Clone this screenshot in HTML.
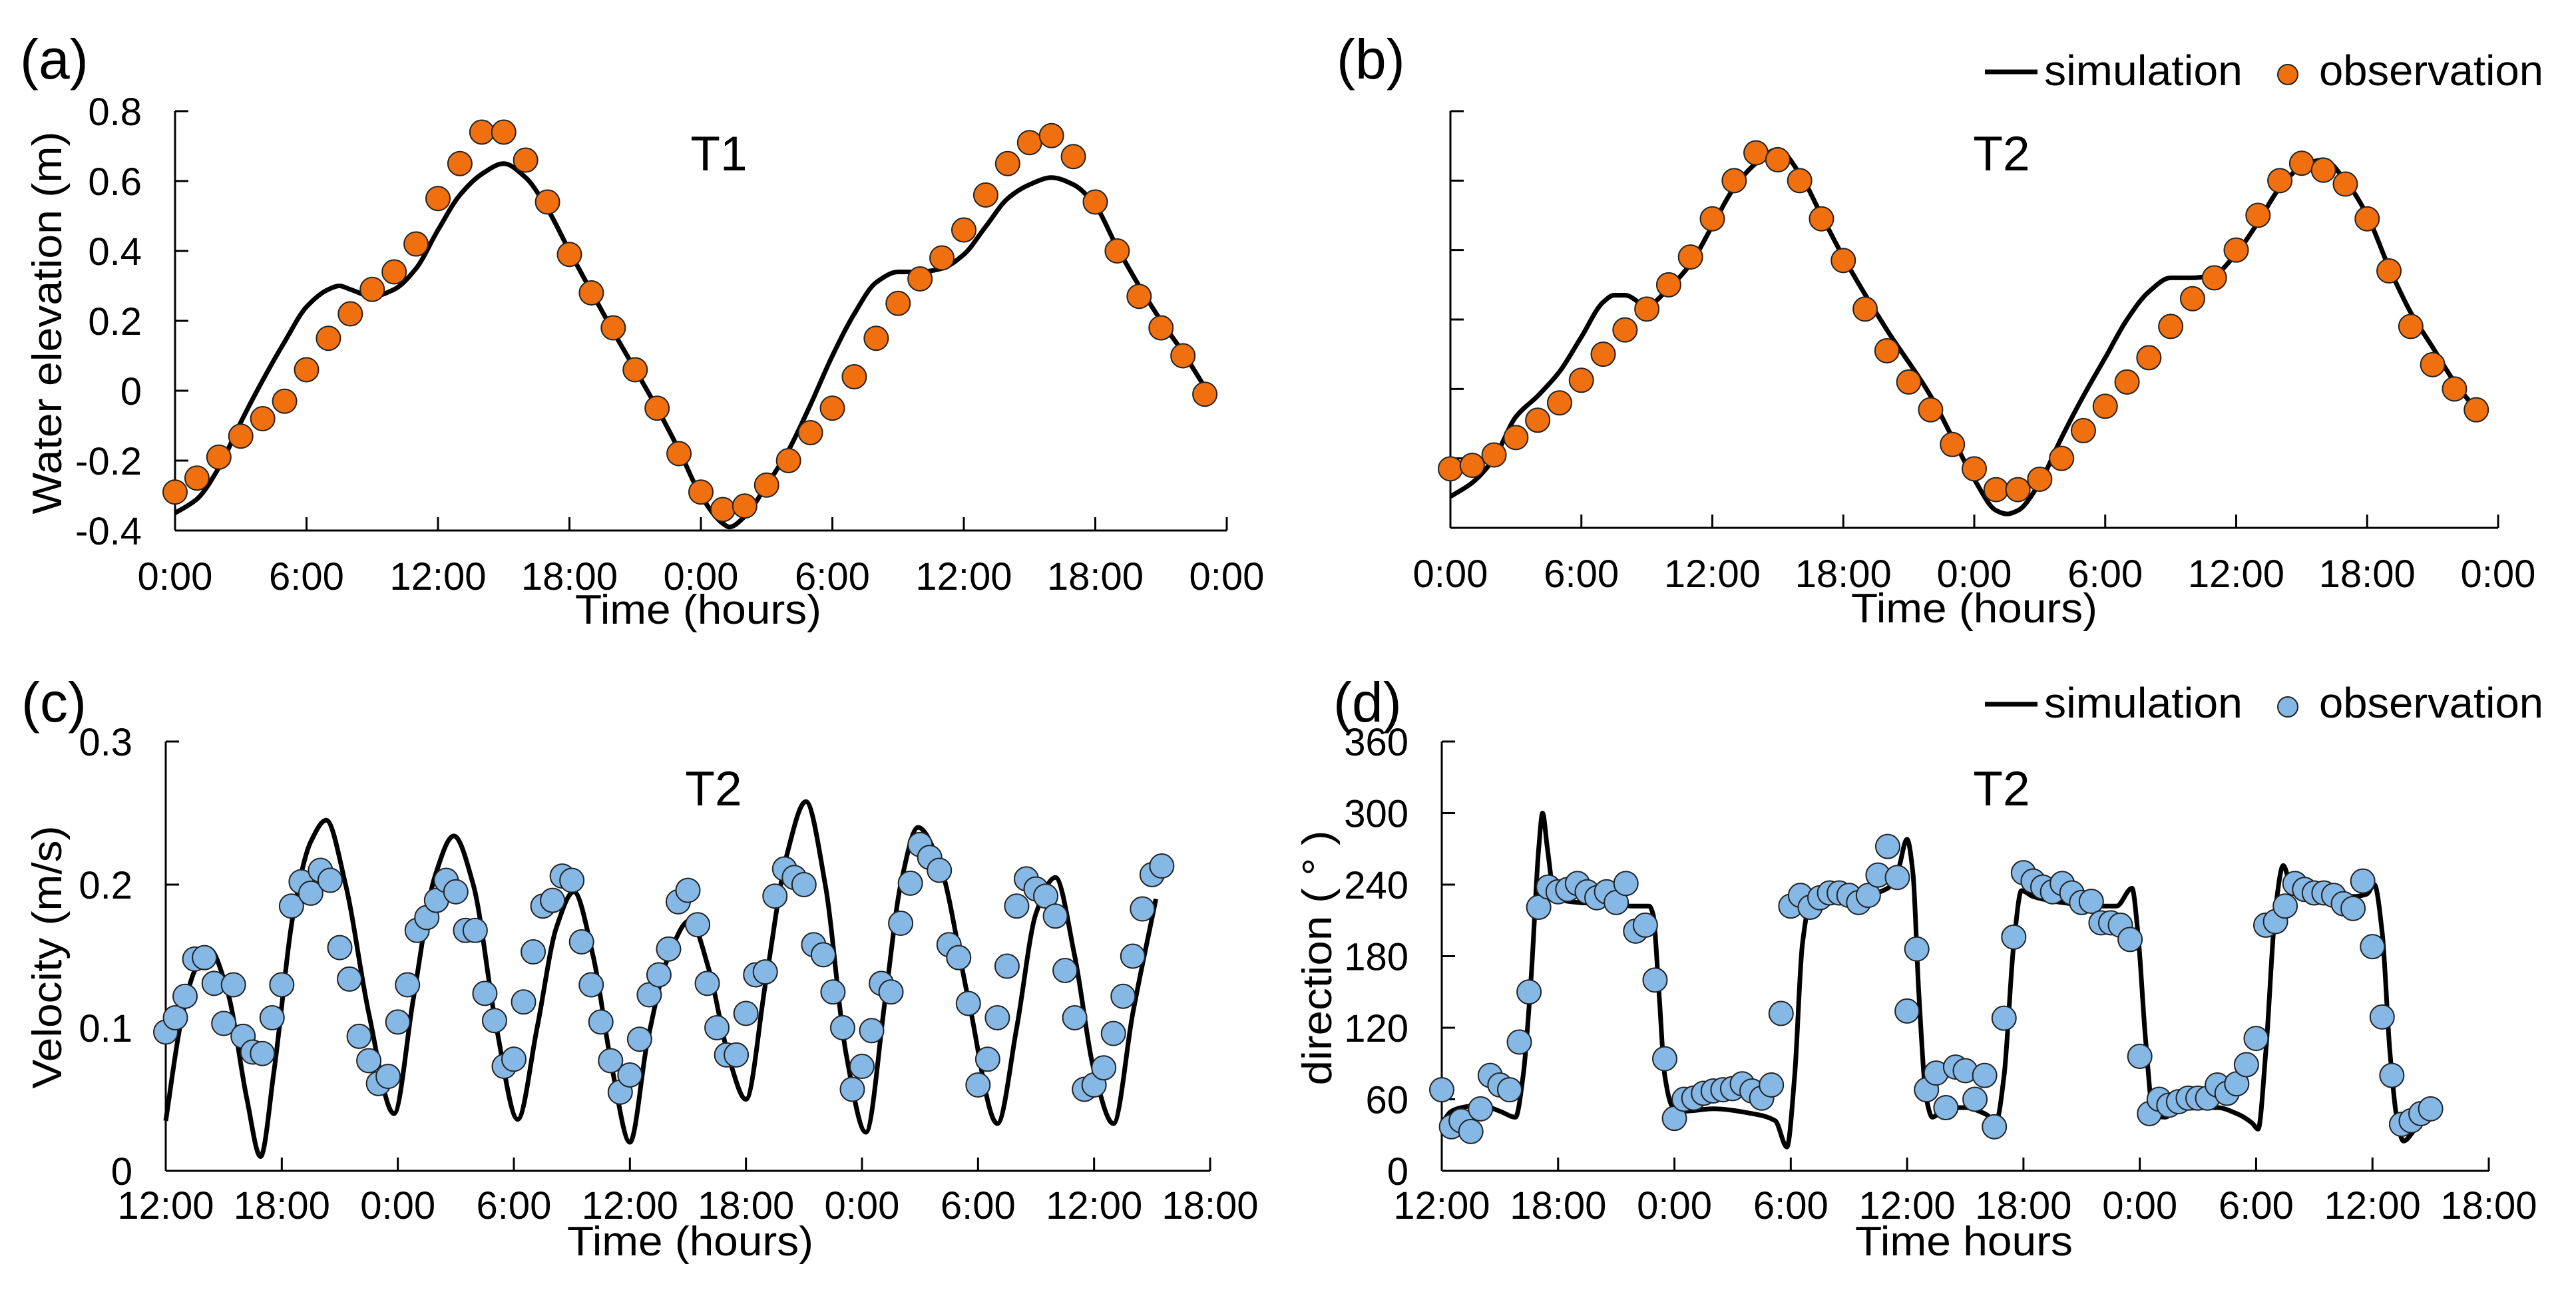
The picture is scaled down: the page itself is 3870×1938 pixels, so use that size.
<!DOCTYPE html>
<html><head><meta charset="utf-8"><title>Tide simulation vs observation</title>
<style>
html,body{margin:0;padding:0;background:#fff;}
svg{display:block;font-family:"Liberation Sans",Arial,sans-serif;}
</style></head>
<body>
<svg id="fig" xmlns="http://www.w3.org/2000/svg" width="3870" height="1938" viewBox="0 0 3870 1938">
<rect x="0" y="0" width="3870" height="1938" fill="#fff"/>
</svg>
<script>
// ---------- data ----------
const elevTicks = [-0.4,-0.2,0,0.2,0.4,0.6,0.8];
const elevTickLabels = ["-0.4","-0.2","0","0.2","0.4","0.6","0.8"];
const dayTickLabelsA = ["0:00","6:00","12:00","18:00","0:00","6:00","12:00","18:00","0:00"];
const dayTickLabelsC = ["12:00","18:00","0:00","6:00","12:00","18:00","0:00","6:00","12:00","18:00"];
const velTicks = [0,0.1,0.2,0.3];
const velTickLabels = ["0","0.1","0.2","0.3"];
const dirTicks = [0,60,120,180,240,300,360];
const dirTickLabels = ["0","60","120","180","240","300","360"];

// panel (a) T1 water elevation, hourly observations
const obsA = [-0.29,-0.25,-0.19,-0.13,-0.08,-0.03,0.06,0.15,0.22,0.29,0.34,0.42,0.55,0.65,0.74,0.74,0.66,0.54,0.39,0.28,0.18,0.06,-0.05,-0.18,-0.29,-0.34,-0.33,-0.27,-0.20,-0.12,-0.05,0.04,0.15,0.25,0.32,0.38,0.46,0.56,0.65,0.71,0.73,0.67,0.54,0.40,0.27,0.18,0.10,-0.01];
const simAHours = [0,1,2,3,4,5,6,7,7.5,8,9,10,11,12,13,14,15,16,17,18,20,22,23,24,25,25.3,26,27,28,29,30,31,32,33,34,35,36,37,38,39,40,41,42,43,44,45,46,47];
const simAValues = [-0.35,-0.31,-0.22,-0.09,0.03,0.14,0.24,0.29,0.30,0.29,0.27,0.29,0.35,0.46,0.56,0.62,0.65,0.61,0.52,0.40,0.17,-0.05,-0.17,-0.30,-0.38,-0.39,-0.36,-0.27,-0.17,-0.04,0.10,0.22,0.31,0.34,0.34,0.35,0.39,0.47,0.55,0.59,0.61,0.59,0.53,0.41,0.30,0.20,0.11,0.01];

// panel (b) T2 water elevation
const obsB = [-0.23,-0.22,-0.19,-0.14,-0.09,-0.04,0.025,0.10,0.17,0.23,0.30,0.38,0.49,0.60,0.68,0.66,0.60,0.49,0.37,0.23,0.11,0.02,-0.06,-0.16,-0.23,-0.29,-0.29,-0.26,-0.20,-0.12,-0.05,0.02,0.09,0.18,0.26,0.32,0.40,0.50,0.60,0.65,0.63,0.59,0.49,0.34,0.18,0.07,0.00,-0.06];
const simBHours = [0,1,2,3,4,5,6,7,7.5,8,9,10,11,12,13,14,15,16,17,18,20,22,23,24,25,25.5,26,27,28,29,30,31,32,33,34,35,36,37,38,39,40,41,42,43,44,45,46,47];
const simBValues = [-0.31,-0.27,-0.20,-0.08,-0.02,0.05,0.15,0.25,0.27,0.27,0.24,0.29,0.36,0.47,0.58,0.65,0.69,0.62,0.50,0.38,0.17,-0.02,-0.14,-0.26,-0.35,-0.36,-0.35,-0.27,-0.14,-0.02,0.09,0.20,0.28,0.32,0.32,0.33,0.39,0.48,0.58,0.64,0.66,0.60,0.50,0.35,0.22,0.12,0.02,-0.06];

// panel (c) T2 velocity, half-hourly observations (hours after 12:00)
const obsC = [0.097,0.107,0.122,0.148,0.149,0.131,0.103,0.130,0.094,0.083,0.082,0.107,0.130,0.185,0.202,0.194,0.210,0.203,0.156,0.134,0.094,0.077,0.061,0.066,0.104,0.130,0.168,0.177,0.189,0.203,0.195,0.168,0.168,0.124,0.105,0.073,0.078,0.118,0.153,0.185,0.189,0.206,0.203,0.160,0.130,0.104,0.077,0.055,0.067,0.092,0.123,0.137,0.155,0.188,0.196,0.172,0.131,0.100,0.081,0.081,0.110,0.137,0.139,0.192,0.211,0.205,0.200,0.158,0.151,0.125,0.100,0.057,0.073,0.098,0.131,0.125,0.173,0.201,0.228,0.219,0.210,0.158,0.149,0.117,0.060,0.078,0.107,0.143,0.185,0.204,0.197,0.192,0.178,0.140,0.107,0.057,0.060,0.072,0.096,0.122,0.150,0.183,0.207,0.213];
const simCHours = [0,0.8,1.5,2.25,3.2,4.2,4.9,5.6,6.6,7.5,8.3,9.3,10.5,11.8,12.8,13.9,14.9,15.9,17.1,18.2,19.2,20.2,21.1,22.1,23.1,24,24.9,26,27.1,28.1,29.1,30,31,32.1,33.1,34.1,35.2,36.2,37.2,38,38.9,40,41.5,43,44,45,46,47,48,49,50,51.2];
const simCValues = [0.035,0.105,0.140,0.155,0.125,0.050,0.010,0.070,0.180,0.230,0.245,0.200,0.110,0.040,0.120,0.205,0.234,0.200,0.100,0.036,0.100,0.170,0.195,0.150,0.070,0.020,0.090,0.150,0.175,0.140,0.080,0.050,0.130,0.220,0.258,0.200,0.080,0.027,0.120,0.200,0.240,0.215,0.120,0.033,0.100,0.180,0.205,0.150,0.070,0.033,0.110,0.190];

// panel (d) T2 direction
const obsD = [68,37,42,33,52,80,72,68,108,150,221,238,234,236,241,234,229,234,225,241,201,206,160,94,44,60,61,65,67,68,69,73,67,61,72,132,222,231,221,229,233,233,231,225,231,248,272,246,134,186,68,82,53,87,84,60,80,37,128,196,250,243,238,234,241,233,225,226,208,208,206,194,96,48,60,55,58,61,61,61,72,65,73,89,111,206,209,222,241,236,233,233,231,224,220,243,188,129,80,39,42,48,52];
const simDHours = [0,0.5,1,2,3,3.8,4.2,4.6,5.0,5.2,5.45,5.8,6.5,8,10,10.7,10.9,11.2,11.5,11.9,12.5,14,16,17.2,17.8,18.2,18.6,19,20,22,23,23.5,24,24.3,24.6,25,25.3,26,27,28,28.6,29,29.5,29.9,30.5,32,34,34.8,35.6,35.9,36.3,36.7,37.3,38,40,41,41.8,42.1,42.5,43,43.4,43.8,45,47,47.7,48.1,48.5,48.9,49.3,49.6,50.2,51];
const simDValues = [40,50,53,55,50,45,80,160,270,300,270,232,226,224,222,222,215,150,80,54,50,52,48,42,20,80,190,225,232,232,237,250,278,250,150,60,45,53,53,48,42,80,190,235,230,225,222,222,237,200,110,48,45,52,53,48,40,35,100,220,256,240,235,230,232,240,200,100,40,25,35,50];

// ---------- helpers ----------
const NS = "http://www.w3.org/2000/svg";
const svg = document.getElementById("fig");
function mk(tag, attrs, parent) {
  const e = document.createElementNS(NS, tag);
  for (const k in attrs) e.setAttribute(k, attrs[k]);
  (parent || svg).appendChild(e);
  return e;
}
function monoPath(xs, ys, sx, sy) {
  const n = xs.length, d = [], m = new Array(n);
  for (let i = 0; i < n - 1; i++) d.push((ys[i+1]-ys[i])/(xs[i+1]-xs[i]));
  m[0] = d[0]; m[n-1] = d[n-2];
  for (let i = 1; i < n - 1; i++) {
    if (d[i-1]*d[i] <= 0) m[i] = 0;
    else { const w1 = 2*(xs[i+1]-xs[i]) + (xs[i]-xs[i-1]), w2 = (xs[i+1]-xs[i]) + 2*(xs[i]-xs[i-1]);
      m[i] = (w1+w2)/(w1/d[i-1] + w2/d[i]); }
  }
  let p = "M" + sx(xs[0]).toFixed(1) + "," + sy(ys[0]).toFixed(1);
  for (let i = 0; i < n - 1; i++) {
    const h = xs[i+1]-xs[i];
    p += " C" + sx(xs[i]+h/3).toFixed(1) + "," + sy(ys[i]+m[i]*h/3).toFixed(1) + " " +
         sx(xs[i+1]-h/3).toFixed(1) + "," + sy(ys[i+1]-m[i+1]*h/3).toFixed(1) + " " +
         sx(xs[i+1]).toFixed(1) + "," + sy(ys[i+1]).toFixed(1);
  }
  return p;
}

function panel(cfg) {
  const g = mk("g", {});
  
  
  const sx = h => cfg.x0 + (h - cfg.hMin) / (cfg.hMax - cfg.hMin) * (cfg.x1 - cfg.x0);
  const sy = v => cfg.yb - (v - cfg.vMin) / (cfg.vMax - cfg.vMin) * (cfg.yb - cfg.yt);

  const ya = mk("line", {x1: cfg.x0, y1: cfg.yt, x2: cfg.x0, y2: cfg.yb, stroke: "#000", "stroke-width": 3}, g);
  
  
  const xa = mk("line", {x1: cfg.x0, y1: cfg.yb, x2: cfg.x1, y2: cfg.yb, stroke: "#000", "stroke-width": 3}, g);
  
  

  cfg.yTicks.forEach((v, i) => {
    const t = mk("line", {x1: cfg.x0, y1: sy(v), x2: cfg.x0 + 20, y2: sy(v), stroke: "#000", "stroke-width": 3}, g);
    
    
    if (cfg.yLabels) {
      const tl = mk("text", {x: cfg.x0 - 50, y: sy(v) + 21, "font-size": 58, "text-anchor": "end", fill: "#000"}, g);
      tl.textContent = cfg.yLabels[i];
      
      
    }
  });
  const nx = cfg.xLabels.length;
  cfg.xLabels.forEach((lab, i) => {
    const h = cfg.hMin + i * (cfg.hMax - cfg.hMin) / (nx - 1);
    const t = mk("line", {x1: sx(h), y1: cfg.yb, x2: sx(h), y2: cfg.yb - 20, stroke: "#000", "stroke-width": 3}, g);
    
    
    const tl = mk("text", {x: sx(h), y: cfg.xLabelY, "font-size": 58, "text-anchor": "middle", fill: "#000"}, g);
    tl.textContent = lab;
    
    
  });

  const sim = mk("path", {d: monoPath(cfg.simH, cfg.simV, sx, sy), fill: "none", stroke: "#000", "stroke-width": 7, "stroke-linejoin": "round"}, g);
  
  

  cfg.obs.forEach((v, i) => {
    const c = mk("circle", {cx: sx(i * cfg.obsStep), cy: sy(v), r: 18, fill: cfg.color, stroke: "#222", "stroke-width": 2}, g);
    
    
  });

  const st = mk("text", {x: cfg.stX, y: cfg.stY, "font-size": 73, "text-anchor": "middle", fill: "#000"}, g);
  st.textContent = cfg.station;
  
  
  const pl = mk("text", {x: cfg.plX, y: cfg.plY, "font-size": 84, fill: "#000"}, g);
  pl.textContent = cfg.letter;
  
  
  const xt = mk("text", {x: cfg.xtX, y: cfg.xtY, "font-size": 62, fill: "#000", textLength: cfg.xtW, lengthAdjust: "spacingAndGlyphs"}, g);
  xt.textContent = cfg.xTitle;
  
  
  if (cfg.yTitle) {
    const yt = mk("text", {x: 0, y: 0, "font-size": 62, "text-anchor": "middle", fill: "#000", textLength: cfg.ytW, lengthAdjust: "spacingAndGlyphs",
      transform: "translate(" + cfg.ytX + "," + cfg.ytY + ") rotate(-90)"}, g);
    yt.textContent = cfg.yTitle;
    
    
  }
  if (cfg.legendY) {
    const lg = mk("g", {}, g);
    
    
    const ll = mk("line", {x1: 2982, y1: cfg.legendY - 20, x2: 3061, y2: cfg.legendY - 20, stroke: "#000", "stroke-width": 7}, lg);
    
    
    const lt = mk("text", {x: 3071, y: cfg.legendY, "font-size": 64, fill: "#000", textLength: 298, lengthAdjust: "spacingAndGlyphs"}, lg);
    lt.textContent = "simulation";
    
    
    const lc = mk("circle", {cx: 3437, cy: cfg.legendY - 16, r: 15, fill: cfg.color, stroke: "#222", "stroke-width": 2}, lg);
    
    
    const lo = mk("text", {x: 3484, y: cfg.legendY, "font-size": 64, fill: "#000", textLength: 337, lengthAdjust: "spacingAndGlyphs"}, lg);
    lo.textContent = "observation";
    
    
  }
}

const ORANGE = "#f0700f", BLUE = "#86b8e6";
panel({name: "panel-a-elevation-t1", x0: 263, x1: 1843, yt: 167, yb: 797, hMin: 0, hMax: 48, vMin: -0.4, vMax: 0.8,
  yTicks: elevTicks, yLabels: elevTickLabels, xLabels: dayTickLabelsA, xLabelY: 886,
  simH: simAHours, simV: simAValues, obs: obsA, obsStep: 1, color: ORANGE,
  station: "T1", stX: 1080, stY: 256, letter: "(a)", plX: 30, plY: 118,
  xTitle: "Time  (hours)", xtX: 864, xtY: 937, xtW: 370,
  yTitle: "Water elevation (m)", ytX: 92, ytY: 485, ytW: 575});
panel({name: "panel-b-elevation-t2", x0: 2179, x1: 3753, yt: 167, yb: 793, hMin: 0, hMax: 48, vMin: -0.4, vMax: 0.8,
  yTicks: elevTicks, yLabels: null, xLabels: dayTickLabelsA, xLabelY: 882,
  simH: simBHours, simV: simBValues, obs: obsB, obsStep: 1, color: ORANGE,
  station: "T2", stX: 3007, stY: 256, letter: "(b)", plX: 2008, plY: 118,
  xTitle: "Time  (hours)", xtX: 2781, xtY: 935, xtW: 370, legendY: 128});
panel({name: "panel-c-velocity-t2", x0: 249, x1: 1818, yt: 1114, yb: 1759, hMin: 0, hMax: 54, vMin: 0, vMax: 0.3,
  yTicks: velTicks, yLabels: velTickLabels, xLabels: dayTickLabelsC, xLabelY: 1831,
  simH: simCHours, simV: simCValues, obs: obsC, obsStep: 0.5, color: BLUE,
  station: "T2", stX: 1072, stY: 1210, letter: "(c)", plX: 32, plY: 1084,
  xTitle: "Time  (hours)", xtX: 852, xtY: 1886, xtW: 370,
  yTitle: "Velocity  (m/s)", ytX: 92, ytY: 1438, ytW: 395});
panel({name: "panel-d-direction-t2", x0: 2166, x1: 3739, yt: 1114, yb: 1759, hMin: 0, hMax: 54, vMin: 0, vMax: 360,
  yTicks: dirTicks, yLabels: dirTickLabels, xLabels: dayTickLabelsC, xLabelY: 1831,
  simH: simDHours, simV: simDValues, obs: obsD, obsStep: 0.5, color: BLUE,
  station: "T2", stX: 3007, stY: 1210, letter: "(d)", plX: 2003, plY: 1084,
  xTitle: "Time  hours", xtX: 2787, xtY: 1886, xtW: 327,
  yTitle: "direction (  °  )", ytX: 2000, ytY: 1439, ytW: 383, legendY: 1078});
</script>
</body></html>
